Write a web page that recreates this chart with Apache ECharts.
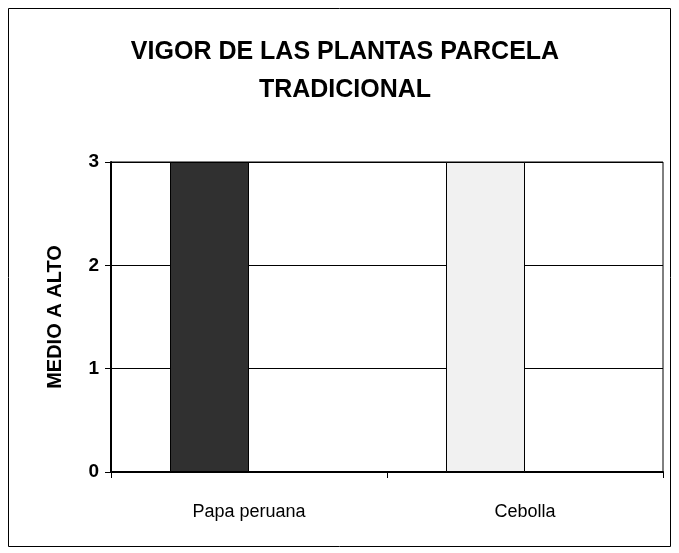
<!DOCTYPE html>
<html>
<head>
<meta charset="utf-8">
<script src="https://cdn.jsdelivr.net/npm/echarts@6/dist/echarts.min.js"></script>
<style>
  html, body { margin: 0; padding: 0; background: #fff; }
  #chart { width: 679px; height: 553px; }
</style>
</head>
<body>
<div id="chart"></div>
<script>
// datos
const categorias = ['Papa peruana', 'Cebolla'];
const vigor = [3, 3];
const serieVacia = [null, null]; // segunda serie de Excel, sin valores
const colores = ['#303030', '#f1f1f1'];
const ticksY = [0, 1, 2, 3];

const chart = echarts.init(document.getElementById('chart'));

chart.setOption({
  backgroundColor: '#fff',
  animation: false,
  textStyle: { fontFamily: 'Liberation Sans, Arial, sans-serif', color: '#000' },
  title: {
    text: 'VIGOR DE LAS PLANTAS PARCELA\nTRADICIONAL',
    left: 340,
    textAlign: 'center',
    top: 28,
    textStyle: { fontSize: 25, fontWeight: 'bold', color: '#000', lineHeight: 38 }
  },
  graphic: [{
    type: 'rect',
    shape: { x: 8.5, y: 8.5, width: 662, height: 538 },
    style: { fill: null, stroke: '#000', lineWidth: 1 },
    silent: true
  }],
  grid: {
    left: 111, right: 16, top: 162, bottom: 81,
    show: true, borderColor: '#000', borderWidth: 1
  },
  xAxis: {
    type: 'category',
    data: categorias,
    axisLine: { lineStyle: { color: '#000', width: 2 } },
    axisTick: { show: true, length: 6, lineStyle: { color: '#000' } },
    axisLabel: { color: '#000', fontSize: 18, margin: 31 }
  },
  yAxis: {
    type: 'value',
    min: ticksY[0],
    max: ticksY[ticksY.length - 1],
    interval: 1,
    name: 'MEDIO A ALTO',
    nameLocation: 'middle',
    nameGap: 46,
    nameTextStyle: { fontSize: 20, fontWeight: 'bold', color: '#000' },
    axisLine: { show: true, lineStyle: { color: '#000', width: 2 } },
    axisTick: { show: true, length: 6, lineStyle: { color: '#000' } },
    axisLabel: { color: '#000', fontSize: 19, fontWeight: 'bold', margin: 12 },
    splitLine: { lineStyle: { color: '#000', width: 1 } }
  },
  series: [{
    type: 'bar',
    data: vigor.map((v, i) => ({
      value: v,
      itemStyle: { color: colores[i] }
    })),
    barWidth: 79,
    barGap: '0%',
    itemStyle: { borderColor: '#000', borderWidth: 1 }
  }, {
    type: 'bar',
    data: serieVacia,
    barWidth: 79
  }]
});
</script>
</body>
</html>
